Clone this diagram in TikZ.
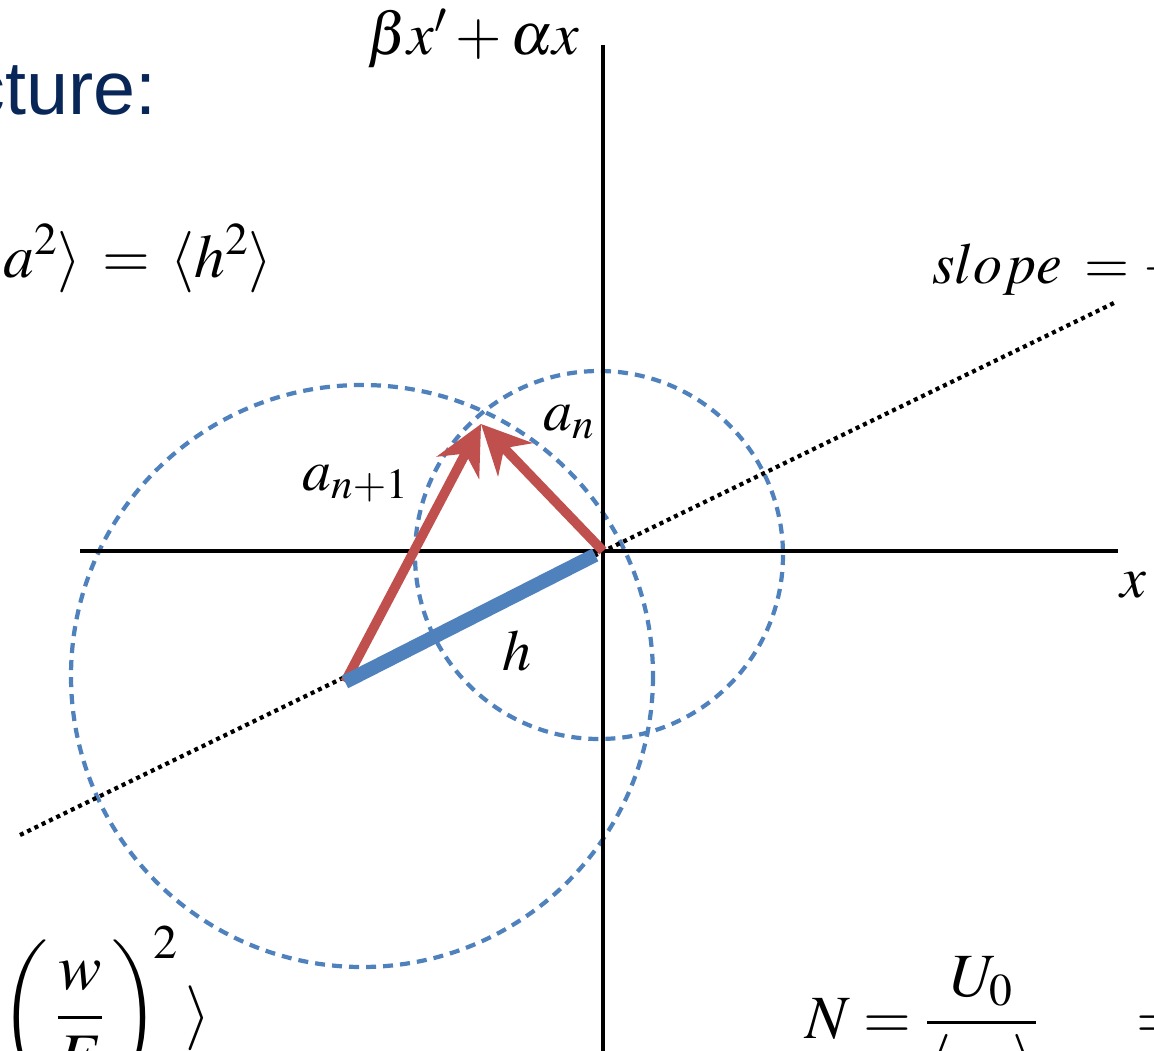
\documentclass[tikz,border=0pt]{standalone}
\usepackage{amsmath}
\usepackage{mathptmx}
\usepackage[no-math]{fontspec}
\newfontfamily\slidefont{Liberation Sans}
\usepackage{xcolor}
\usepackage{tikz}
\usetikzlibrary{arrows.meta, positioning, calc}

\definecolor{vecred}{RGB}{192,80,77}
\definecolor{vecblue}{RGB}{79,129,189}
\definecolor{titleblue}{RGB}{8,38,88}

\begin{document}
\begin{tikzpicture}[
    x=0.02cm, y=-0.02cm,
    lbl/.style={font=\fontsize{33}{38}\selectfont, inner sep=0pt},
    biglbl/.style={font=\fontsize{35}{40}\selectfont, inner sep=0pt},
    axis/.style={line width=2.5pt, draw=black},
    ring/.style={line width=2.4pt, draw=vecblue, dash pattern=on 5.7pt off 4pt},
    slopeline/.style={line width=2.4pt, draw=black, dash pattern=on 2.3pt off 2.3pt},
    hbar/.style={line width=8pt, draw=vecblue},
    vec/.style={-{Stealth[length=28pt, width=27pt, inset=9pt]}, line width=5.5pt, draw=vecred},
    halo/.style={-{Stealth[length=28pt, width=27pt, inset=9pt, line width=2pt]}, line width=0.5pt, draw=white}
]
    \useasboundingbox (0,0) rectangle (1154,1051);
    \clip (0,0) rectangle (1154,1051);

    % punkty
    \coordinate (O) at (603,551);
    \coordinate (H) at (345,682);
    \coordinate (T) at (481,424);
    \coordinate (D1) at (20,835);
    \coordinate (D2) at (1116,302);

    % okregi
    \draw[ring] (599,555) circle (184);
    \draw[ring] (362,676) circle (291);

    % osie
    \draw[axis] (603,45) -- (603,1060);
    \draw[axis] (80,551) -- (1118,551);
    \draw[slopeline] (D1) -- (D2);

    % wektory
    \draw[vec] (H) -- (T);
    \draw[halo, shorten <=60pt] (O) -- (T);
    \draw[vec] (O) -- (T);
    \draw[hbar, shorten >=5pt] (H) -- (O);

    % etykiety
    \node[font=\fontsize{34}{38}\selectfont, inner sep=0pt, anchor=base east] (yaxis) at (580,55) {$\beta x' + \alpha x$};
    \node[lbl, anchor=base west] (xaxis) at (1120,597) {$x$};
    \node[lbl, anchor=base west] (slope) at (932,283) {$slope\mkern3mu = -$};
    \node[lbl, anchor=base west] (an) at (543,430) {$a_n$};
    \node[lbl, anchor=base west] (anext) at (302,490) {$a_{n+1}$};
    \node[lbl, anchor=base west] (hlab) at (502,670) {$h$};

    % tekst slajdu
    \node[font=\slidefont\fontsize{43}{48}\selectfont, text=titleblue, inner sep=0pt, anchor=base east] (title) at (157,115) {cture:};
    \node[biglbl, anchor=base east] (avg) at (273,277) {$\langle a^2\rangle \mkern2mu=\mkern2mu \langle h^2\rangle$};
    \node[font=\fontsize{37}{42}\selectfont, inner sep=0pt, anchor=base west] (wfrac) at (0,1034) {$\biggl(\,\dfrac{w}{E}\,\biggr)^{\!2}\,\rangle$};
    \node[biglbl, anchor=base west] (nfrac) at (805,1038) {$N = \dfrac{U_0}{\langle\quad\rangle}\hspace{48pt} =$};
\end{tikzpicture}
\end{document}
